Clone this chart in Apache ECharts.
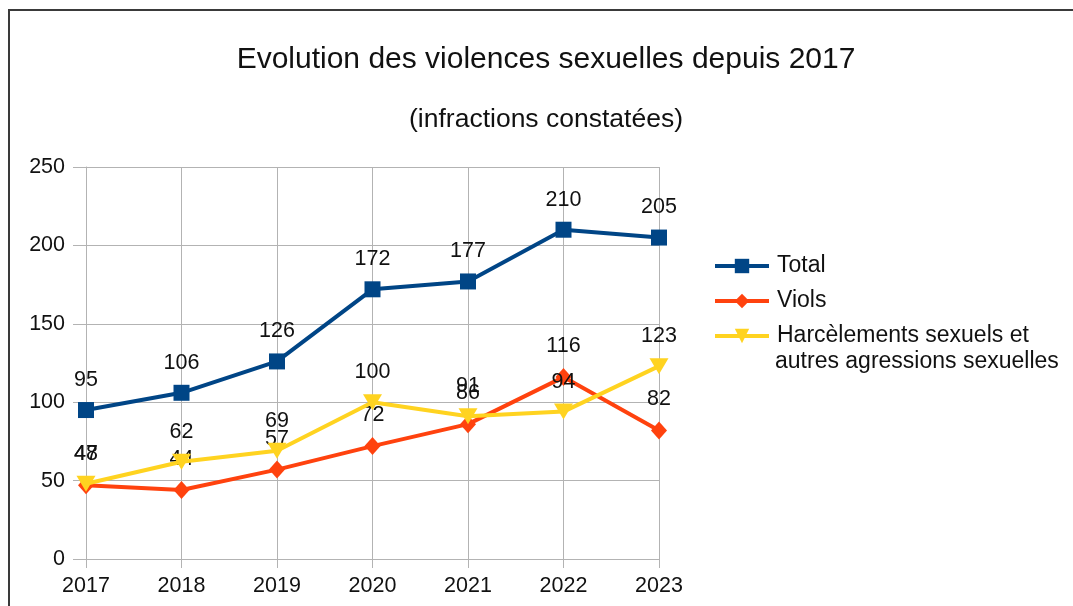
<!DOCTYPE html>
<html><head><meta charset="utf-8">
<script src="https://cdn.jsdelivr.net/npm/echarts@6/dist/echarts.min.js"></script>
<style>html,body{margin:0;padding:0;background:#fff}#c{width:1073px;height:606px}</style>
</head><body><div id="c"></div>
<script>
const years = ['2017','2018','2019','2020','2021','2022','2023'];
const total = [95,106,126,172,177,210,205];
const viols = [47,44,57,72,86,116,82];
const harcelements = [48,62,69,100,91,94,123];
const seriesNames = ['Total','Viols','Harcèlements sexuels et autres agressions sexuelles'];
const yTicks = {min:0,max:250,interval:50};

const font = 'Liberation Sans, Arial, sans-serif';
const fs = 21.5;
const lfs = 23;
const chart = echarts.init(document.getElementById('c'));
const lbl = {show:true,position:'top',distance:11,color:'#111',fontSize:fs,fontFamily:font};
chart.setOption({
  animation:false,
  title:[
    {text:'Evolution des violences sexuelles depuis 2017',left:541,top:40,textAlign:'center',
     textStyle:{fontSize:30,fontWeight:'normal',color:'#111',fontFamily:font}},
    {text:'(infractions constatées)',left:541,top:101,textAlign:'center',
     textStyle:{fontSize:26.5,fontWeight:'normal',color:'#111',fontFamily:font}}
  ],
  grid:{left:86,right:414,top:167,bottom:47},
  legend:{orient:'vertical',left:713,top:254,padding:0,itemWidth:54,itemHeight:18,itemGap:11,
    data:seriesNames,
    lineStyle:{width:4},
    formatter:function(n){return n===seriesNames[2]?'Harcèlements sexuels et':n;},
    textStyle:{fontSize:lfs,lineHeight:24,color:'#111',fontFamily:font,padding:[0,0,0,3]}},
  graphic:[
    {type:'rect',shape:{x:9,y:10,width:1200,height:800},style:{fill:'none',stroke:'#3a3a3a',lineWidth:2},silent:true},
    {type:'text',left:775,top:350,style:{text:'autres agressions sexuelles',fontSize:lfs,fill:'#111',fontFamily:font}}
  ],
  xAxis:{type:'category',data:years,boundaryGap:false,
    axisLine:{lineStyle:{color:'#b3b3b3',width:1}},
    axisTick:{show:true,length:9,lineStyle:{color:'#b3b3b3'}},
    splitLine:{show:true,lineStyle:{color:'#b3b3b3',width:1}},
    axisLabel:{fontSize:fs,color:'#111',fontFamily:font,margin:16}},
  yAxis:{type:'value',min:yTicks.min,max:yTicks.max,interval:yTicks.interval,
    axisLine:{show:true,lineStyle:{color:'#b3b3b3',width:1}},
    axisTick:{show:true,length:13,lineStyle:{color:'#b3b3b3'}},
    splitLine:{show:true,lineStyle:{color:'#b3b3b3',width:1}},
    axisLabel:{fontSize:fs,color:'#111',fontFamily:font,margin:21}},
  series:[
    {name:seriesNames[0],type:'line',data:total,symbol:'rect',symbolSize:16,
     itemStyle:{color:'#004586'},lineStyle:{color:'#004586',width:4},label:lbl,z:3},
    {name:seriesNames[1],type:'line',data:viols,symbol:'diamond',symbolSize:[16,18],
     itemStyle:{color:'#ff420e'},lineStyle:{color:'#ff420e',width:4},label:lbl,z:2},
    {name:seriesNames[2],type:'line',data:harcelements,symbol:'triangle',symbolRotate:180,symbolSize:[19,16],
     itemStyle:{color:'#ffd320'},lineStyle:{color:'#ffd320',width:4},label:lbl,z:4}
  ]
});
</script></body></html>
